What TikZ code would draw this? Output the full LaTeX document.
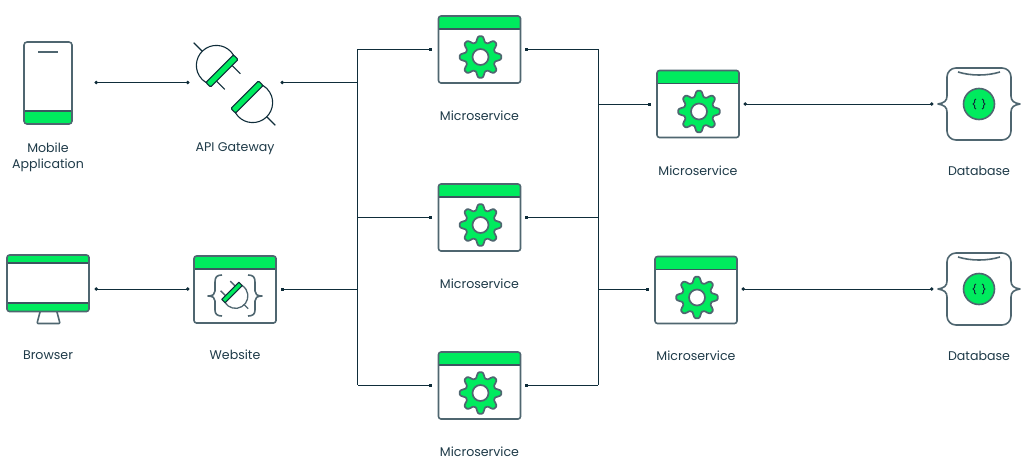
\documentclass[tikz,border=0pt]{standalone}
\usepackage{fontspec}
\setmainfont{Poppins}
\usetikzlibrary{arrows.meta}
\definecolor{brandgreen}{HTML}{00EB5E}
\definecolor{iconline}{HTML}{4F6670}
\definecolor{darkline}{HTML}{0F2D3A}
\definecolor{labelcol}{HTML}{1F3B49}
\tikzset{
  iconbox/.style={inner sep=0pt,minimum height=60pt},
  outline/.style={draw=iconline,line width=1.6pt,line join=round},
  thinplug/.style={draw=darkline,line width=1.1pt,line join=round},
  conn/.style={draw=darkline,line width=0.9pt},
  dots/.style={conn,{Circle[length=3.4pt]}-{Circle[length=3.4pt]},shorten <=-1.7pt,shorten >=-1.7pt},
  dotstart/.style={conn,{Circle[length=3.4pt]}-,shorten <=-1.7pt},
  dotboth/.style={conn,{Square[length=3pt]}-,shorten <=-1.5pt},
  lbl/.style={text=labelcol,font=\fontsize{12.6}{16}\selectfont,align=center,inner sep=0pt},
  pics/window/.style={code={
    \begin{scope}[y=1pt]
      \fill[white,rounded corners=2.5pt] (-41,-33.5) rectangle (41,33.5);
      \fill[brandgreen,rounded corners=2.5pt] (-41,20.5) -- (-41,33.5) -- (41,33.5) -- (41,20.5) [sharp corners] -- cycle;
      \draw[iconline!70!darkline,line width=1.1pt] (-41,20.5) -- (41,20.5);
      \draw[outline,rounded corners=2.5pt] (-41,-33.5) rectangle (41,33.5);
    \end{scope}}},
  pics/gear/.style={code={
    \begin{scope}[y=1pt]
      \draw[outline,fill=brandgreen,line width=1.7pt] plot[smooth cycle,samples=96,domain=0:356.25,variable=\t]
        ({(18+3.2*(cos(8*\t)-0.12*cos(24*\t)))*cos(\t)},{(18+3.2*(cos(8*\t)-0.12*cos(24*\t)))*sin(\t)});
      \draw[outline,fill=white,line width=1.7pt] (0,0) circle[radius=8pt];
    \end{scope}}},
  pics/plug/.style={code={
    \begin{scope}[y=1pt]
      \draw[thinplug,fill=white] (19.4,3.2) arc[start angle=-13.7,end angle=193.7,radius=20pt];
      \draw[thinplug] (0,28) -- (0,40);
      \draw[thinplug,fill=brandgreen,rounded corners=1.2pt] (-19.5,-3.3) rectangle (19.5,3.3);
    \end{scope}}},
  pics/prongs/.style={code={
    \begin{scope}[y=1pt]
      \draw[thinplug] (-11,-3.3) -- (-11,-15) (11,-3.3) -- (11,-15);
    \end{scope}}},
  pics/dbicon/.style={code={
    \begin{scope}[y=1pt]
      \draw[outline,fill=white] (-32,27) .. controls (-32,32) and (-28,36) .. (-23,36) -- (23,36)
        .. controls (28,36) and (32,32) .. (32,27) -- (32,8)
        .. controls (32,3) and (35,1) .. (41,0) .. controls (35,-1) and (32,-3) .. (32,-8) -- (32,-27)
        .. controls (32,-32) and (28,-36) .. (23,-36) -- (-23,-36)
        .. controls (-28,-36) and (-32,-32) .. (-32,-27) -- (-32,-8)
        .. controls (-32,-3) and (-35,-1) .. (-41,0) .. controls (-35,1) and (-32,3) .. (-32,8) -- cycle;
      \draw[outline] (-21,32) .. controls (-8,28) and (8,28) .. (21,32);
      \draw[outline,fill=brandgreen] (0,0) circle[radius=15.5pt];
      \draw[darkline,line width=1pt] (-3,5) .. controls (-5,5) and (-4.5,3) .. (-4.5,1.5) .. controls (-4.5,0.5) and (-5,0) .. (-6,0) .. controls (-5,0) and (-4.5,-0.5) .. (-4.5,-1.5) .. controls (-4.5,-3) and (-5,-5) .. (-3,-5);
      \draw[darkline,line width=1pt] (3,5) .. controls (5,5) and (4.5,3) .. (4.5,1.5) .. controls (4.5,0.5) and (5,0) .. (6,0) .. controls (5,0) and (4.5,-0.5) .. (4.5,-1.5) .. controls (4.5,-3) and (5,-5) .. (3,-5);
    \end{scope}}},
  pics/microicon/.style={code={
    \pic at (0,0) {window};
    \pic at (1,7.5) {gear};}}
}
\begin{document}
\begin{tikzpicture}[x=1pt,y=-1pt]
\useasboundingbox (0,0) rectangle (1026,463);
\fill[white] (0,0) rectangle (1026,463);

% invisible boxes whose sides are the connector end points
\node[iconbox,minimum width=96pt] (mobile) at (48,82.5) {};
\node[iconbox,minimum width=94pt] (api) at (235,82.5) {};
\node[iconbox,minimum width=96pt] (browser) at (48,289) {};
\node[iconbox,minimum width=94pt] (website) at (235,289) {};
\node[iconbox,minimum width=95pt] (m1) at (478.5,49) {};
\node[iconbox,minimum width=95pt] (m2) at (478.5,217) {};
\node[iconbox,minimum width=95pt] (m3) at (478.5,385) {};
\node[iconbox,minimum width=95pt] (m4) at (697.5,104) {};
\node[iconbox,minimum width=95pt] (m5) at (695.5,289) {};
\node[iconbox,minimum width=94pt] (db1) at (979,104) {};
\node[iconbox,minimum width=94pt] (db2) at (979,289) {};
\coordinate (tl) at (357.7,0);
\coordinate (tr) at (598,0);

% connectors
\draw[dots] (mobile.east) -- (api.west);
\draw[dots] (browser.east) -- (website.west);
\draw[dotstart] (api.east) -- (tl |- api.east);
\draw[dotboth] (website.east) -- (tl |- website.east);
\draw[conn] (tl |- m1.west) -- (tl |- m3.west);
\draw[dotboth] (m1.west) -- (tl |- m1.west);
\draw[dotboth] (m2.west) -- (tl |- m2.west);
\draw[dotboth] (m3.west) -- (tl |- m3.west);
\draw[conn] (tr |- m1.east) -- (tr |- m3.east);
\draw[dotboth] (m1.east) -- (tr |- m1.east);
\draw[dotboth] (m2.east) -- (tr |- m2.east);
\draw[dotboth] (m3.east) -- (tr |- m3.east);
\draw[dotboth] (m4.west) -- (tr |- m4.west);
\draw[dotboth] (m5.west) -- (tr |- m5.west);
\draw[dots] (m4.east) -- (db1.west);
\draw[dots] (m5.east) -- (db2.west);

% phone
\begin{scope}
  \fill[white,rounded corners=3pt] (24,42) rectangle (72,124);
  \fill[brandgreen,rounded corners=3pt] (24,111) -- (24,124) -- (72,124) -- (72,111) [sharp corners] -- cycle;
  \draw[iconline!70!darkline,line width=1.1pt] (24,111) -- (72,111);
  \draw[outline,rounded corners=3pt] (24,42) rectangle (72,124);
  \draw[outline,line width=1.1pt] (38,52) -- (58,52);
\end{scope}

% monitor
\begin{scope}
  \draw[outline,fill=white,rounded corners=1pt] (40,312) -- (37,323.5) -- (60,323.5) -- (57,312);
  \fill[white,rounded corners=2.5pt] (7,255) rectangle (89,311.5);
  \fill[brandgreen,rounded corners=2.5pt] (7,263) -- (7,255) -- (89,255) -- (89,263) [sharp corners] -- cycle;
  \fill[brandgreen,rounded corners=2.5pt] (7,303) -- (7,311.5) -- (89,311.5) -- (89,303) [sharp corners] -- cycle;
  \draw[iconline!70!darkline,line width=1.1pt] (7,263) -- (89,263) (7,303) -- (89,303);
  \draw[outline,rounded corners=2.5pt] (7,255) rectangle (89,311.5);
\end{scope}

% API gateway plugs
\pic[rotate=45] at (222,71) {plug};
\pic[rotate=45] at (222,71) {prongs};
\pic[rotate=225] at (247,97) {plug};

% website
\pic at (235,289.5) {window};
\draw[outline] (222,275) .. controls (217,275) and (215,277) .. (215,282) -- (215,291)
  .. controls (215,294) and (213,296) .. (208,296) .. controls (213,296) and (215,298) .. (215,301) -- (215,310)
  .. controls (215,314) and (217,316) .. (222,316);
\draw[outline] (248,275) .. controls (253,275) and (255,277) .. (255,282) -- (255,291)
  .. controls (255,294) and (257,296) .. (262,296) .. controls (257,296) and (255,298) .. (255,301) -- (255,310)
  .. controls (255,314) and (253,316) .. (248,316);
\begin{scope}[shift={(232,292.5)},rotate=225,scale=0.62]
  \begin{scope}[y=1pt]
    \draw[outline,fill=white,line width=1.3pt] (19.4,3.2) arc[start angle=-13.7,end angle=193.7,radius=20pt];
    \draw[outline,line width=1.3pt] (0,28) -- (0,37);
    \draw[outline,line width=1.3pt] (-11,-3.3) -- (-11,-15) (11,-3.3) -- (11,-15);
    \draw[thinplug,fill=brandgreen,line width=1pt] (-19.5,-3.8) rectangle (19.5,3.8);
  \end{scope}
\end{scope}

% microservices
\pic at (479.5,49.5) {microicon};
\pic at (479.5,217.5) {microicon};
\pic at (479.5,385.5) {microicon};
\pic at (698,104) {microicon};
\pic at (696,290) {microicon};

% databases
\pic at (979,104) {dbicon};
\pic at (979,289) {dbicon};

% labels
\node[lbl] (lmobile) at (48,157.5) {Mobile\\Application};
\node[lbl] (lapi) at (235,149) {API Gateway};
\node[lbl] (lbrowser) at (48,355) {Browser};
\node[lbl] (lwebsite) at (235,355) {Website};
\node[lbl] (lm1) at (479.5,115.5) {Microservice};
\node[lbl] (lm2) at (479.5,283.5) {Microservice};
\node[lbl] (lm3) at (479.5,451.5) {Microservice};
\node[lbl] (lm4) at (698,170.5) {Microservice};
\node[lbl] (lm5) at (696,355.5) {Microservice};
\node[lbl] (ldb1) at (979,170.5) {Database};
\node[lbl] (ldb2) at (979,355.5) {Database};
\end{tikzpicture}
\end{document}
